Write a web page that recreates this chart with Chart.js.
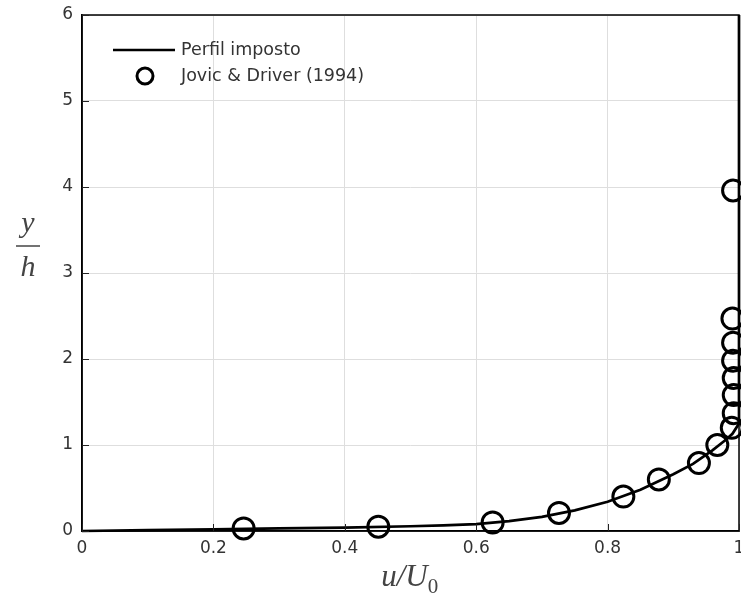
<!DOCTYPE html>
<html>
<head>
<meta charset="utf-8">
<script src="https://cdn.jsdelivr.net/npm/chart.js@4"></script>
<style>
  html, body { margin:0; padding:0; background:#fff; }
  #wrap { width:741px; height:603px; }
</style>
</head>
<body>
<div id="wrap"><canvas id="c" width="741" height="603"></canvas></div>
<script>
// profile imposed at the inlet (u/U0, y/h)
const profileU = [0, 0.1, 0.2, 0.3, 0.4, 0.5, 0.55, 0.6, 0.65, 0.7, 0.75, 0.8, 0.85, 0.9, 0.93, 0.96, 0.98, 0.99, 1.0, 1.0];
const profileY = [0, 0.01, 0.02, 0.03, 0.04, 0.055, 0.065, 0.08, 0.115, 0.165, 0.24, 0.34, 0.48, 0.66, 0.78, 0.94, 1.06, 1.13, 1.25, 6];

// Jovic & Driver (1994) measurements
const expU = [0.246, 0.451, 0.625, 0.726, 0.824, 0.878, 0.939, 0.967, 0.989, 0.992, 0.992, 0.992, 0.991, 0.991, 0.990, 0.991];
const expY = [0.03, 0.05, 0.10, 0.21, 0.40, 0.60, 0.79, 1.00, 1.20, 1.37, 1.58, 1.78, 1.98, 2.19, 2.47, 3.96];

const xTicks = [0, 0.2, 0.4, 0.6, 0.8, 1];
const yTicks = [0, 1, 2, 3, 4, 5, 6];
const legendLabels = ['Perfil imposto', 'Jovic & Driver (1994)'];

const pts = (xs, ys) => xs.map((x, i) => ({ x: x, y: ys[i] }));

// frame, inward ticks, legend and the math-style axis titles
const decor = {
  id: 'decor',
  afterDatasetsDraw(chart){
    const { ctx, chartArea: a, scales } = chart;
    ctx.save();
    ctx.strokeStyle = '#000';
    ctx.lineWidth = 1.5;
    ctx.strokeRect(a.left, a.top, a.right - a.left, a.bottom - a.top);

    // matlab-like inward tick marks
    ctx.strokeStyle = '#222';
    ctx.lineWidth = 1;
    ctx.beginPath();
    xTicks.forEach(v => {
      const px = Math.round(scales.x.getPixelForValue(v)) + 0.5;
      ctx.moveTo(px, a.bottom); ctx.lineTo(px, a.bottom - 7);
    });
    yTicks.forEach(v => {
      const py = Math.round(scales.y.getPixelForValue(v)) + 0.5;
      ctx.moveTo(a.left, py); ctx.lineTo(a.left + 7, py);
    });
    ctx.stroke();

    // legend
    ctx.strokeStyle = '#000';
    ctx.lineWidth = 2.5;
    ctx.beginPath(); ctx.moveTo(113, 50); ctx.lineTo(175, 50); ctx.stroke();
    ctx.lineWidth = 3;
    ctx.beginPath(); ctx.arc(145, 76, 8, 0, Math.PI * 2); ctx.stroke();
    ctx.fillStyle = '#333';
    ctx.font = '17.5px "DejaVu Sans"';
    ctx.textBaseline = 'middle';
    ctx.textAlign = 'left';
    ctx.fillText(legendLabels[0], 181, 50);
    ctx.fillText(legendLabels[1], 181, 76);

    // y/h fraction
    ctx.fillStyle = '#444';
    ctx.font = 'italic 30px "Liberation Serif"';
    ctx.textAlign = 'center';
    ctx.fillText('y', 28, 224);
    ctx.fillText('h', 28, 268);
    ctx.strokeStyle = '#444';
    ctx.lineWidth = 1.5;
    ctx.beginPath(); ctx.moveTo(16, 246); ctx.lineTo(40, 246); ctx.stroke();

    // u/U0
    ctx.textAlign = 'left';
    ctx.font = 'italic 31px "Liberation Serif"';
    const t = 'u/U';
    const w = ctx.measureText(t).width;
    const x0 = 410 - (w + 11) / 2;
    ctx.fillText(t, x0, 578);
    ctx.font = '21px "Liberation Serif"';
    ctx.fillText('0', x0 + w, 587);
    ctx.restore();
  }
};

new Chart(document.getElementById('c'), {
  type: 'scatter',
  data: {
    datasets: [
      {
        label: legendLabels[0],
        data: pts(profileU, profileY),
        showLine: true,
        borderColor: '#000',
        borderWidth: 2.7,
        pointRadius: 0,
        tension: 0,
        clip: false
      },
      {
        label: legendLabels[1],
        data: pts(expU, expY),
        showLine: false,
        borderColor: '#000',
        backgroundColor: 'rgba(0,0,0,0)',
        borderWidth: 3,
        pointRadius: 10.5,
        clip: false
      }
    ]
  },
  options: {
    responsive: false,
    animation: false,
    layout: { autoPadding: false, padding: { top: 15, right: 2, left: 0, bottom: 0 } },
    plugins: { legend: { display: false }, tooltip: { enabled: false } },
    scales: {
      x: {
        type: 'linear', min: 0, max: 1,
        afterBuildTicks: s => { s.ticks = xTicks.map(v => ({ value: v })); },
        afterFit: s => { s.height = 72; s.paddingRight = 0; s.paddingLeft = 0; },
        grid: { color: '#dedede', lineWidth: 1, drawTicks: false },
        border: { color: '#000', width: 1.5 },
        ticks: {
          color: '#333', font: { family: 'DejaVu Sans', size: 17 }, padding: 7,
          maxRotation: 0, callback: v => String(v)
        }
      },
      y: {
        type: 'linear', min: 0, max: 6,
        afterBuildTicks: s => { s.ticks = yTicks.map(v => ({ value: v })); },
        afterFit: s => { s.width = 82; s.paddingTop = 0; s.paddingBottom = 0; },
        grid: { color: '#dedede', lineWidth: 1, drawTicks: false },
        border: { color: '#000', width: 1.5 },
        ticks: {
          color: '#333', font: { family: 'DejaVu Sans', size: 17 }, padding: 9,
          callback: v => String(v)
        }
      }
    }
  },
  plugins: [decor]
});
</script>
</body>
</html>
